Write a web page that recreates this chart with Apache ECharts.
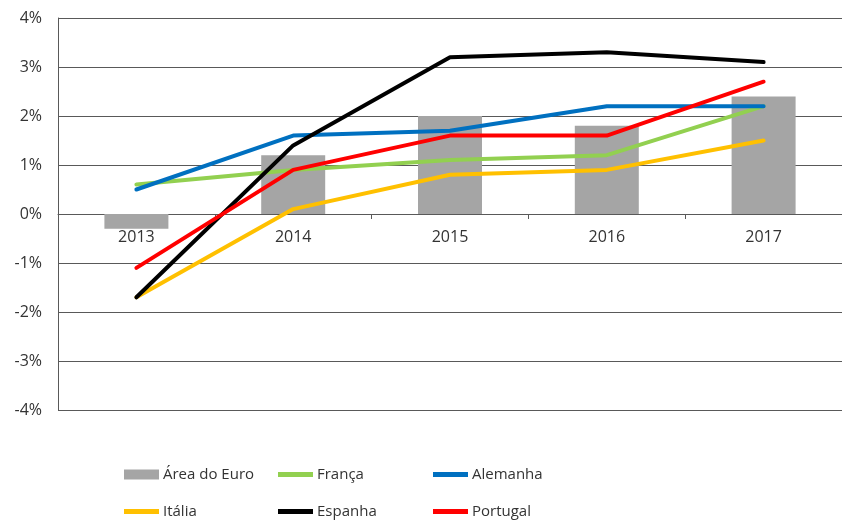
<!DOCTYPE html>
<html>
<head>
<meta charset="utf-8">
<script src="https://cdn.jsdelivr.net/npm/echarts@6/dist/echarts.min.js"></script>
<style>
  html, body { margin: 0; padding: 0; background: #fff; }
  #chart { width: 842px; height: 520px; }
</style>
</head>
<body>
<div id="chart"></div>
<script>
const years = ['2013', '2014', '2015', '2016', '2017']
const areaEuro = [-0.3, 1.2, 2.0, 1.8, 2.4]
const franca = [0.6, 0.9, 1.1, 1.2, 2.2]
const alemanha = [0.5, 1.6, 1.7, 2.2, 2.2]
const italia = [-1.7, 0.1, 0.8, 0.9, 1.5]
const espanha = [-1.7, 1.4, 3.2, 3.3, 3.1]
const portugal = [-1.1, 0.9, 1.6, 1.6, 2.7]
const yTicks = [-4, -3, -2, -1, 0, 1, 2, 3, 4]

const font = 'Open Sans'
const textColor = '#333333'

const lineSeries = [
  { name: 'França', data: franca, color: '#92d050' },
  { name: 'Alemanha', data: alemanha, color: '#0070c0' },
  { name: 'Itália', data: italia, color: '#ffc000' },
  { name: 'Espanha', data: espanha, color: '#000000' },
  { name: 'Portugal', data: portugal, color: '#ff0000' }
].map(s => ({
  name: s.name,
  type: 'line',
  data: s.data,
  symbol: 'none',
  color: s.color,
  lineStyle: { width: 4, color: s.color, join: 'round', cap: 'round' }
}))

// legend slots: [name, left, top, isBar]
const legendSlots = [
  ['Área do Euro', 124, 467, true],
  ['França', 278, 467, false],
  ['Alemanha', 433, 467, false],
  ['Itália', 124, 504, false],
  ['Espanha', 278, 504, false],
  ['Portugal', 433, 504, false]
]

const chart = echarts.init(document.getElementById('chart'))
chart.setOption({
  animation: false,
  textStyle: { fontFamily: font },
  grid: { left: 58, right: -4, top: 18, bottom: 110, containLabel: false },
  legend: legendSlots.map(([name, left, top, isBar]) => ({
    data: [{ name: name, icon: 'rect' }],
    left: left,
    top: top,
    padding: 0,
    itemWidth: 35,
    itemHeight: isBar ? 10 : 5,
    itemGap: 0,
    textStyle: { fontFamily: font, fontSize: 15, color: textColor, padding: [0, 0, 0, -1] }
  })),
  xAxis: {
    type: 'category',
    data: years,
    position: 'bottom',
    offset: -196,
    axisLine: { onZero: false, lineStyle: { color: '#595959', width: 1 } },
    axisTick: { show: true, length: 5, inside: false, lineStyle: { color: '#595959' } },
    axisLabel: { color: textColor, fontSize: 16, margin: 15 },
    splitLine: { show: false }
  },
  yAxis: {
    type: 'value',
    min: -4,
    max: 4,
    interval: 1,
    axisLine: { show: true, lineStyle: { color: '#595959' } },
    axisTick: { show: false },
    axisLabel: {
      color: textColor,
      fontSize: 16,
      margin: 16,
      formatter: v => (yTicks.includes(v) ? v + '%' : '')
    },
    splitLine: { show: true, lineStyle: { color: '#595959', width: 1 } }
  },
  series: [
    {
      name: 'Área do Euro',
      type: 'bar',
      data: areaEuro,
      barWidth: 64,
      color: '#a5a5a5',
      itemStyle: { color: '#a5a5a5' }
    }
  ].concat(lineSeries)
})
</script>
</body>
</html>
